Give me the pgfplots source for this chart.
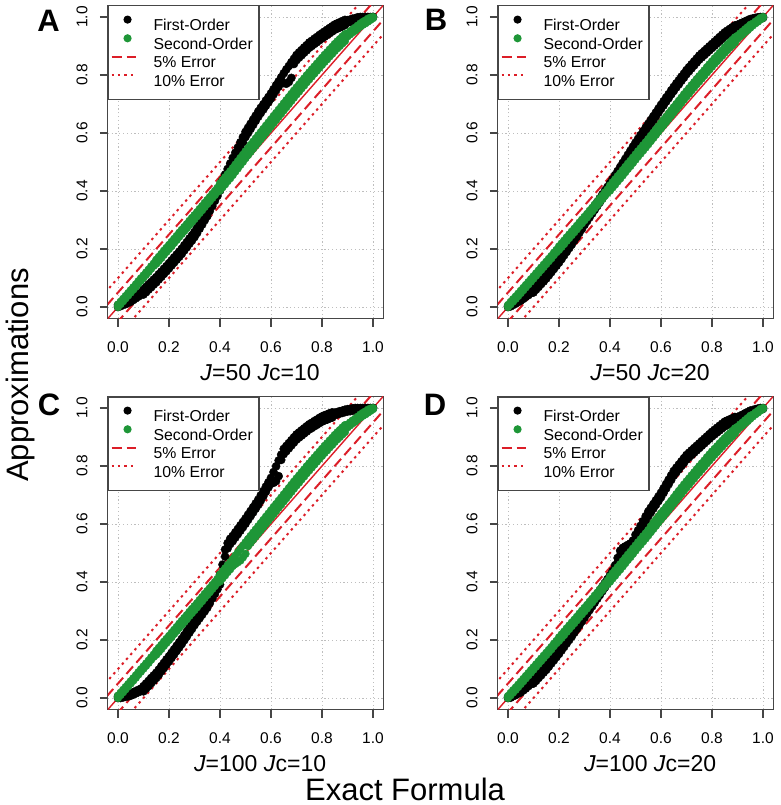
\documentclass[border=0pt]{standalone}
\usepackage{fontspec}
\setmainfont{Liberation Sans}
\usepackage{pgfplots}
\usepackage{pgfplotstable}
\pgfplotsset{compat=1.18}
\definecolor{frameg}{RGB}{70,70,70}
\definecolor{gridg}{RGB}{190,190,190}
\definecolor{lred}{RGB}{220,30,40}
\definecolor{lgreen}{RGB}{30,150,55}

\pgfplotstableread{
x b1 b2 g1 g2
0.00 0.000 0.007 0.000 0.008
0.01 0.003 0.011 0.010 0.018
0.02 0.007 0.015 0.020 0.028
0.03 0.010 0.018 0.030 0.038
0.04 0.014 0.022 0.040 0.048
0.05 0.018 0.026 0.050 0.058
0.06 0.024 0.032 0.060 0.068
0.07 0.030 0.038 0.070 0.078
0.08 0.036 0.044 0.081 0.089
0.09 0.042 0.050 0.091 0.099
0.10 0.043 0.061 0.101 0.109
0.11 0.051 0.069 0.111 0.119
0.12 0.060 0.078 0.121 0.129
0.13 0.068 0.086 0.132 0.140
0.14 0.077 0.095 0.142 0.150
0.15 0.085 0.103 0.149 0.163
0.16 0.095 0.113 0.159 0.173
0.17 0.104 0.122 0.169 0.183
0.18 0.114 0.132 0.180 0.194
0.19 0.123 0.141 0.190 0.204
0.20 0.133 0.151 0.200 0.214
0.21 0.143 0.161 0.210 0.224
0.22 0.153 0.171 0.221 0.235
0.23 0.163 0.181 0.231 0.245
0.24 0.173 0.191 0.242 0.256
0.25 0.183 0.201 0.252 0.266
0.26 0.195 0.213 0.262 0.276
0.27 0.206 0.224 0.272 0.286
0.28 0.218 0.236 0.283 0.297
0.29 0.229 0.247 0.293 0.307
0.30 0.241 0.259 0.303 0.317
0.31 0.255 0.273 0.313 0.327
0.32 0.270 0.288 0.324 0.338
0.33 0.284 0.302 0.334 0.348
0.34 0.299 0.317 0.345 0.359
0.35 0.313 0.331 0.355 0.369
0.36 0.331 0.349 0.365 0.379
0.37 0.348 0.366 0.376 0.390
0.38 0.366 0.384 0.386 0.400
0.39 0.383 0.401 0.397 0.411
0.40 0.401 0.419 0.402 0.426
0.41 0.420 0.438 0.413 0.437
0.42 0.439 0.457 0.423 0.447
0.43 0.458 0.476 0.434 0.458
0.44 0.477 0.495 0.444 0.468
0.45 0.496 0.514 0.455 0.479
0.46 0.514 0.532 0.467 0.491
0.47 0.532 0.550 0.478 0.502
0.48 0.550 0.568 0.490 0.514
0.49 0.568 0.586 0.501 0.525
0.50 0.586 0.604 0.513 0.537
0.51 0.600 0.618 0.524 0.548
0.52 0.614 0.632 0.535 0.559
0.53 0.628 0.646 0.546 0.570
0.54 0.642 0.660 0.557 0.581
0.55 0.656 0.674 0.568 0.592
0.56 0.669 0.687 0.579 0.603
0.57 0.681 0.699 0.590 0.614
0.58 0.694 0.712 0.601 0.625
0.59 0.706 0.724 0.612 0.636
0.60 0.719 0.737 0.623 0.647
0.61 0.733 0.751 0.634 0.658
0.62 0.747 0.765 0.645 0.669
0.63 0.760 0.778 0.656 0.680
0.64 0.774 0.792 0.667 0.691
0.65 0.772 0.806 0.678 0.702
0.66 0.770 0.819 0.689 0.713
0.67 0.776 0.831 0.700 0.724
0.68 0.790 0.844 0.711 0.735
0.69 0.838 0.856 0.722 0.746
0.70 0.851 0.869 0.733 0.757
0.71 0.860 0.878 0.743 0.767
0.72 0.868 0.886 0.754 0.778
0.73 0.877 0.895 0.764 0.788
0.74 0.885 0.903 0.775 0.799
0.75 0.894 0.912 0.785 0.809
0.76 0.900 0.918 0.795 0.819
0.77 0.907 0.925 0.805 0.829
0.78 0.913 0.931 0.815 0.839
0.79 0.920 0.938 0.825 0.849
0.80 0.926 0.944 0.835 0.859
0.81 0.932 0.950 0.845 0.869
0.82 0.938 0.956 0.854 0.878
0.83 0.944 0.962 0.864 0.888
0.84 0.950 0.968 0.873 0.897
0.85 0.956 0.974 0.883 0.907
0.86 0.960 0.978 0.892 0.916
0.87 0.964 0.982 0.900 0.924
0.88 0.968 0.986 0.909 0.933
0.89 0.972 0.990 0.917 0.941
0.90 0.981 0.989 0.933 0.943
0.91 0.983 0.991 0.940 0.950
0.92 0.986 0.994 0.947 0.957
0.93 0.988 0.996 0.953 0.963
0.94 0.991 0.999 0.960 0.970
0.95 0.993 1.000 0.967 0.977
0.96 0.994 1.000 0.973 0.983
0.97 0.995 1.000 0.978 0.988
0.98 0.996 1.000 0.984 0.994
0.99 0.997 1.000 0.990 0.998
1.00 1.000 1.000 0.996 1.000
}\tabA

\pgfplotstableread{
x b1 b2 g1 g2
0.00 0.000 0.003 0.000 0.007
0.01 0.002 0.008 0.009 0.017
0.02 0.007 0.013 0.019 0.027
0.03 0.012 0.018 0.028 0.036
0.04 0.017 0.023 0.038 0.046
0.05 0.022 0.028 0.048 0.056
0.06 0.028 0.034 0.058 0.066
0.07 0.035 0.041 0.068 0.076
0.08 0.041 0.047 0.078 0.086
0.09 0.048 0.054 0.088 0.096
0.10 0.050 0.064 0.098 0.106
0.11 0.060 0.074 0.108 0.116
0.12 0.069 0.083 0.118 0.126
0.13 0.079 0.093 0.128 0.136
0.14 0.088 0.102 0.138 0.146
0.15 0.098 0.112 0.148 0.156
0.16 0.109 0.123 0.158 0.166
0.17 0.120 0.134 0.168 0.176
0.18 0.131 0.145 0.179 0.187
0.19 0.142 0.156 0.189 0.197
0.20 0.153 0.167 0.197 0.209
0.21 0.165 0.179 0.207 0.219
0.22 0.178 0.192 0.217 0.229
0.23 0.190 0.204 0.228 0.240
0.24 0.203 0.217 0.238 0.250
0.25 0.215 0.229 0.248 0.260
0.26 0.229 0.243 0.258 0.270
0.27 0.242 0.256 0.268 0.280
0.28 0.256 0.270 0.279 0.291
0.29 0.269 0.283 0.289 0.301
0.30 0.283 0.297 0.299 0.311
0.31 0.296 0.310 0.309 0.321
0.32 0.309 0.323 0.320 0.332
0.33 0.322 0.336 0.330 0.342
0.34 0.335 0.349 0.341 0.353
0.35 0.348 0.362 0.351 0.363
0.36 0.361 0.375 0.362 0.374
0.37 0.374 0.388 0.372 0.384
0.38 0.387 0.401 0.383 0.395
0.39 0.400 0.414 0.393 0.405
0.40 0.413 0.427 0.401 0.419
0.41 0.427 0.441 0.412 0.430
0.42 0.441 0.455 0.422 0.440
0.43 0.455 0.469 0.433 0.451
0.44 0.469 0.483 0.443 0.461
0.45 0.483 0.497 0.454 0.472
0.46 0.497 0.511 0.465 0.483
0.47 0.511 0.525 0.476 0.494
0.48 0.525 0.539 0.486 0.504
0.49 0.539 0.553 0.497 0.515
0.50 0.553 0.567 0.508 0.526
0.51 0.566 0.580 0.519 0.537
0.52 0.579 0.593 0.529 0.547
0.53 0.592 0.606 0.540 0.558
0.54 0.605 0.619 0.550 0.568
0.55 0.618 0.632 0.561 0.579
0.56 0.631 0.645 0.572 0.590
0.57 0.644 0.658 0.583 0.601
0.58 0.657 0.671 0.594 0.612
0.59 0.670 0.684 0.605 0.623
0.60 0.683 0.697 0.616 0.634
0.61 0.695 0.709 0.627 0.645
0.62 0.708 0.722 0.638 0.656
0.63 0.720 0.734 0.649 0.667
0.64 0.733 0.747 0.660 0.678
0.65 0.745 0.759 0.671 0.689
0.66 0.757 0.771 0.682 0.700
0.67 0.768 0.782 0.693 0.711
0.68 0.780 0.794 0.704 0.722
0.69 0.791 0.805 0.715 0.733
0.70 0.803 0.817 0.726 0.744
0.71 0.813 0.827 0.736 0.754
0.72 0.823 0.837 0.747 0.765
0.73 0.833 0.847 0.757 0.775
0.74 0.843 0.857 0.768 0.786
0.75 0.853 0.867 0.778 0.796
0.76 0.861 0.875 0.788 0.806
0.77 0.869 0.883 0.798 0.816
0.78 0.877 0.891 0.809 0.827
0.79 0.885 0.899 0.819 0.837
0.80 0.893 0.907 0.829 0.847
0.81 0.901 0.915 0.839 0.857
0.82 0.909 0.923 0.848 0.866
0.83 0.917 0.931 0.858 0.876
0.84 0.925 0.939 0.867 0.885
0.85 0.933 0.947 0.877 0.895
0.86 0.939 0.953 0.886 0.904
0.87 0.945 0.959 0.895 0.913
0.88 0.951 0.965 0.903 0.921
0.89 0.957 0.971 0.912 0.930
0.90 0.967 0.973 0.925 0.935
0.91 0.971 0.977 0.933 0.943
0.92 0.975 0.981 0.940 0.950
0.93 0.979 0.985 0.948 0.958
0.94 0.983 0.989 0.955 0.965
0.95 0.987 0.993 0.963 0.973
0.96 0.989 0.995 0.971 0.977
0.97 0.991 0.997 0.978 0.984
0.98 0.993 0.999 0.984 0.990
0.99 0.995 1.000 0.991 0.997
1.00 0.997 1.000 0.997 1.000
}\tabB

\pgfplotstableread{
x b1 b2 g1 g2
0.00 0.000 0.006 0.000 0.008
0.01 0.000 0.008 0.010 0.018
0.02 0.002 0.010 0.020 0.028
0.03 0.004 0.012 0.030 0.038
0.04 0.006 0.014 0.040 0.048
0.05 0.008 0.016 0.050 0.058
0.06 0.012 0.020 0.060 0.068
0.07 0.016 0.024 0.070 0.078
0.08 0.020 0.028 0.081 0.089
0.09 0.024 0.032 0.091 0.099
0.10 0.023 0.041 0.101 0.109
0.11 0.032 0.050 0.111 0.119
0.12 0.041 0.059 0.121 0.129
0.13 0.051 0.069 0.132 0.140
0.14 0.060 0.078 0.142 0.150
0.15 0.069 0.087 0.149 0.163
0.16 0.080 0.098 0.159 0.173
0.17 0.092 0.110 0.169 0.183
0.18 0.103 0.121 0.180 0.194
0.19 0.115 0.133 0.190 0.204
0.20 0.126 0.144 0.200 0.214
0.21 0.138 0.156 0.210 0.224
0.22 0.150 0.168 0.221 0.235
0.23 0.162 0.180 0.231 0.245
0.24 0.174 0.192 0.242 0.256
0.25 0.186 0.204 0.252 0.266
0.26 0.199 0.217 0.262 0.276
0.27 0.212 0.230 0.272 0.286
0.28 0.225 0.243 0.283 0.297
0.29 0.238 0.256 0.293 0.307
0.30 0.251 0.269 0.303 0.317
0.31 0.263 0.281 0.313 0.327
0.32 0.275 0.293 0.324 0.338
0.33 0.287 0.305 0.334 0.348
0.34 0.299 0.317 0.345 0.359
0.35 0.311 0.329 0.355 0.369
0.36 0.327 0.345 0.365 0.379
0.37 0.343 0.361 0.376 0.390
0.38 0.359 0.377 0.386 0.400
0.39 0.375 0.393 0.397 0.411
0.40 0.391 0.425 0.402 0.426
0.41 0.428 0.460 0.413 0.437
0.42 0.488 0.512 0.423 0.447
0.43 0.516 0.534 0.434 0.458
0.44 0.531 0.549 0.444 0.468
0.45 0.541 0.559 0.455 0.479
0.46 0.553 0.571 0.462 0.491
0.47 0.565 0.583 0.468 0.502
0.48 0.577 0.595 0.474 0.514
0.49 0.589 0.607 0.485 0.525
0.50 0.601 0.619 0.497 0.537
0.51 0.614 0.632 0.524 0.548
0.52 0.627 0.645 0.535 0.559
0.53 0.640 0.658 0.546 0.570
0.54 0.653 0.671 0.557 0.581
0.55 0.666 0.684 0.568 0.592
0.56 0.681 0.699 0.579 0.603
0.57 0.696 0.714 0.590 0.614
0.58 0.711 0.729 0.601 0.625
0.59 0.726 0.744 0.612 0.636
0.60 0.741 0.759 0.623 0.647
0.61 0.742 0.779 0.634 0.658
0.62 0.748 0.799 0.645 0.669
0.63 0.765 0.819 0.656 0.680
0.64 0.821 0.839 0.667 0.691
0.65 0.841 0.859 0.678 0.702
0.66 0.851 0.869 0.689 0.713
0.67 0.861 0.879 0.700 0.724
0.68 0.871 0.889 0.711 0.735
0.69 0.881 0.899 0.722 0.746
0.70 0.891 0.909 0.733 0.757
0.71 0.898 0.916 0.743 0.767
0.72 0.905 0.923 0.754 0.778
0.73 0.912 0.930 0.764 0.788
0.74 0.919 0.937 0.775 0.799
0.75 0.926 0.944 0.785 0.809
0.76 0.931 0.949 0.795 0.819
0.77 0.937 0.955 0.805 0.829
0.78 0.942 0.960 0.815 0.839
0.79 0.948 0.966 0.825 0.849
0.80 0.953 0.971 0.835 0.859
0.81 0.957 0.975 0.845 0.869
0.82 0.960 0.978 0.854 0.878
0.83 0.964 0.982 0.864 0.888
0.84 0.967 0.985 0.873 0.897
0.85 0.976 0.984 0.883 0.907
0.86 0.978 0.986 0.892 0.916
0.87 0.981 0.989 0.900 0.924
0.88 0.983 0.991 0.909 0.933
0.89 0.986 0.994 0.917 0.941
0.90 0.988 0.996 0.933 0.943
0.91 0.989 0.997 0.940 0.950
0.92 0.991 0.999 0.947 0.957
0.93 0.992 1.000 0.953 0.963
0.94 0.994 1.000 0.960 0.970
0.95 0.995 1.000 0.967 0.977
0.96 0.996 1.000 0.973 0.983
0.97 0.997 1.000 0.978 0.988
0.98 0.998 1.000 0.984 0.994
0.99 0.999 1.000 0.990 0.998
1.00 1.000 1.000 0.996 1.000
}\tabC

\pgfplotstableread{
x b1 b2 g1 g2
0.00 0.000 0.003 0.000 0.007
0.01 0.001 0.007 0.009 0.017
0.02 0.006 0.012 0.019 0.027
0.03 0.010 0.016 0.028 0.036
0.04 0.015 0.021 0.038 0.046
0.05 0.019 0.025 0.048 0.056
0.06 0.026 0.032 0.058 0.066
0.07 0.033 0.039 0.068 0.076
0.08 0.041 0.047 0.078 0.086
0.09 0.048 0.054 0.088 0.096
0.10 0.050 0.066 0.098 0.106
0.11 0.059 0.075 0.108 0.116
0.12 0.069 0.085 0.118 0.126
0.13 0.078 0.094 0.128 0.136
0.14 0.088 0.104 0.138 0.146
0.15 0.097 0.113 0.148 0.156
0.16 0.108 0.124 0.158 0.166
0.17 0.119 0.135 0.168 0.176
0.18 0.130 0.146 0.179 0.187
0.19 0.141 0.157 0.189 0.197
0.20 0.152 0.168 0.197 0.209
0.21 0.164 0.180 0.207 0.219
0.22 0.176 0.192 0.217 0.229
0.23 0.188 0.204 0.228 0.240
0.24 0.200 0.216 0.238 0.250
0.25 0.212 0.228 0.248 0.260
0.26 0.225 0.241 0.258 0.270
0.27 0.238 0.254 0.268 0.280
0.28 0.251 0.267 0.279 0.291
0.29 0.264 0.280 0.289 0.301
0.30 0.277 0.293 0.299 0.311
0.31 0.290 0.306 0.309 0.321
0.32 0.303 0.319 0.320 0.332
0.33 0.316 0.332 0.330 0.342
0.34 0.329 0.345 0.341 0.353
0.35 0.342 0.358 0.351 0.363
0.36 0.355 0.371 0.362 0.374
0.37 0.368 0.384 0.372 0.384
0.38 0.381 0.397 0.383 0.395
0.39 0.394 0.410 0.393 0.405
0.40 0.407 0.423 0.401 0.419
0.41 0.422 0.438 0.412 0.430
0.42 0.442 0.458 0.422 0.440
0.43 0.467 0.483 0.433 0.451
0.44 0.492 0.508 0.443 0.461
0.45 0.502 0.518 0.454 0.472
0.46 0.507 0.523 0.465 0.483
0.47 0.512 0.528 0.476 0.494
0.48 0.517 0.533 0.486 0.504
0.49 0.527 0.543 0.497 0.515
0.50 0.547 0.563 0.508 0.526
0.51 0.562 0.578 0.519 0.537
0.52 0.578 0.594 0.529 0.547
0.53 0.594 0.610 0.540 0.558
0.54 0.611 0.627 0.550 0.568
0.55 0.627 0.643 0.561 0.579
0.56 0.640 0.656 0.572 0.592
0.57 0.653 0.669 0.583 0.604
0.58 0.666 0.682 0.594 0.615
0.59 0.679 0.695 0.605 0.626
0.60 0.692 0.708 0.616 0.637
0.61 0.707 0.723 0.627 0.647
0.62 0.722 0.738 0.638 0.658
0.63 0.737 0.753 0.649 0.669
0.64 0.752 0.768 0.660 0.680
0.65 0.767 0.783 0.671 0.691
0.66 0.778 0.794 0.682 0.703
0.67 0.789 0.805 0.693 0.714
0.68 0.800 0.816 0.704 0.725
0.69 0.811 0.827 0.715 0.736
0.70 0.822 0.838 0.726 0.747
0.71 0.830 0.846 0.736 0.757
0.72 0.838 0.854 0.747 0.768
0.73 0.846 0.862 0.757 0.778
0.74 0.854 0.870 0.768 0.789
0.75 0.862 0.878 0.778 0.799
0.76 0.870 0.886 0.788 0.809
0.77 0.878 0.894 0.798 0.819
0.78 0.886 0.902 0.809 0.830
0.79 0.894 0.910 0.819 0.840
0.80 0.902 0.918 0.829 0.850
0.81 0.909 0.925 0.839 0.859
0.82 0.916 0.932 0.848 0.868
0.83 0.923 0.939 0.858 0.878
0.84 0.930 0.946 0.867 0.887
0.85 0.937 0.953 0.877 0.896
0.86 0.941 0.957 0.886 0.905
0.87 0.945 0.961 0.895 0.913
0.88 0.949 0.965 0.903 0.921
0.89 0.953 0.969 0.912 0.930
0.90 0.962 0.968 0.925 0.935
0.91 0.967 0.973 0.933 0.943
0.92 0.971 0.977 0.940 0.950
0.93 0.976 0.982 0.948 0.958
0.94 0.980 0.986 0.955 0.965
0.95 0.985 0.991 0.963 0.973
0.96 0.987 0.993 0.971 0.977
0.97 0.990 0.996 0.978 0.984
0.98 0.992 0.998 0.984 0.990
0.99 0.995 1.000 0.991 0.997
1.00 0.997 1.000 0.997 1.000
}\tabD

\pgfplotsset{
  panel/.style={
    scale only axis, width=275.4pt, height=313.2pt,
    xmin=-0.04, xmax=1.04, ymin=-0.04, ymax=1.04,
    xtick={0,0.2,0.4,0.6,0.8,1}, ytick={0,0.2,0.4,0.6,0.8,1},
    xticklabels={0.0,0.2,0.4,0.6,0.8,1.0},
    yticklabels={0.0,0.2,0.4,0.6,0.8,1.0},
    tick align=outside, xtick pos=left, ytick pos=left,
    major tick length=8pt,
    every tick/.style={frameg, line width=1.1pt},
    axis line style={frameg, line width=1.1pt},
    grid=major,
    major grid style={gridg, line width=0.9pt, dash pattern=on 1.2pt off 2.6pt},
    tick label style={font=\fontsize{15.5}{15.5}\selectfont, inner sep=0pt},
    xticklabel style={anchor=base},
    xticklabel shift=26pt,
    yticklabel style={rotate=90, anchor=base},
    yticklabel shift=12.5pt,
    xlabel style={at={(axis description cs:0.553,0)}, anchor=base, yshift=-62pt,
      inner sep=0pt, font=\fontsize{23}{23}\selectfont},
    legend style={at={(axis description cs:0,1)}, anchor=north west,
      draw=frameg, line width=1.1pt, fill=white,
      inner xsep=2.2pt, inner ysep=9.6pt, row sep=0pt, column sep=17pt,
      font=\fontsize{15.8}{15.8}\selectfont,
      nodes={inner sep=0pt, text height=15pt, text depth=3.3pt}},
    legend cell align=left,
  },
  blk/.style={only marks, mark=*, mark size=4.1pt, black,
    mark options={draw=none, fill=black},
    legend image code/.code={\path (0pt,0pt) (24pt,0pt); \fill[black] (16pt,5.5pt) circle (3.5pt);}},
  grn/.style={only marks, mark=*, mark size=3.9pt, lgreen,
    mark options={draw=none, fill=lgreen},
    legend image code/.code={\path (0pt,0pt) (24pt,0pt); \fill[lgreen] (16pt,5.5pt) circle (3.5pt);}},
  solidl/.style={lred, line width=1.4pt, forget plot},
  dashl/.style={lred, line width=2pt, dash pattern=on 10pt off 5pt,
    legend image code/.code={\draw[lred, line width=2pt, dash pattern=on 10pt off 5pt] (0pt,5.5pt) -- (24pt,5.5pt);}},
  dotl/.style={lred, line width=2pt, dash pattern=on 2.4pt off 4pt,
    legend image code/.code={\draw[lred, line width=2pt, dash pattern=on 2.4pt off 4pt] (0pt,5.5pt) -- (24pt,5.5pt);}},
}

\newcommand{\panelplots}[1]{%
  \addplot[blk] table[x=x,y=b1]{#1};
  \addplot[blk, forget plot] table[x=x,y=b2]{#1};
  \addplot[grn] table[x=x,y=g1]{#1};
  \addplot[grn, forget plot] table[x=x,y=g2]{#1};
  \addplot[solidl] coordinates {(-0.2,-0.2) (1.2,1.2)};
  \addplot[dashl] coordinates {(-0.2,-0.15) (1.2,1.25)};
  \addplot[dashl, forget plot] coordinates {(-0.2,-0.25) (1.2,1.15)};
  \addplot[dotl] coordinates {(-0.2,-0.1) (1.2,1.3)};
  \addplot[dotl, forget plot] coordinates {(-0.2,-0.3) (1.2,1.1)};
  \legend{First-Order,Second-Order\hspace*{4pt},5\% Error,10\% Error}
}

\begin{document}
\begin{tikzpicture}
\useasboundingbox (0pt,0pt) rectangle (780pt,-805pt);

\begin{axis}[panel, at={(107.8pt,-318.6pt)}, anchor=south west,
  xlabel={\textit{J}=50 \textit{J}c=10}]
\panelplots{\tabA}
\end{axis}

\begin{axis}[panel, at={(497.8pt,-318.6pt)}, anchor=south west,
  xlabel={\textit{J}=50 \textit{J}c=20}]
\panelplots{\tabB}
\end{axis}

\begin{axis}[panel, at={(107.8pt,-709.6pt)}, anchor=south west,
  xlabel={\textit{J}=100 \textit{J}c=10}]
\panelplots{\tabC}
\end{axis}

\begin{axis}[panel, at={(497.8pt,-709.6pt)}, anchor=south west,
  xlabel={\textit{J}=100 \textit{J}c=20}]
\panelplots{\tabD}
\end{axis}

\node[font=\fontsize{31}{31}\selectfont\bfseries, anchor=base, inner sep=0pt] at (48.5pt,-32pt) {A};
\node[font=\fontsize{31}{31}\selectfont\bfseries, anchor=base, inner sep=0pt] at (436pt,-31pt) {B};
\node[font=\fontsize{31}{31}\selectfont\bfseries, anchor=base, inner sep=0pt] at (49pt,-415pt) {C};
\node[font=\fontsize{31}{31}\selectfont\bfseries, anchor=base, inner sep=0pt] at (435pt,-415pt) {D};
\node[font=\fontsize{31}{31}\selectfont, rotate=90, anchor=base, inner sep=0pt] at (28pt,-375pt) {Approximations};
\node[font=\fontsize{31}{31}\selectfont, anchor=base, inner sep=0pt] at (405pt,-800pt) {Exact Formula};
\end{tikzpicture}
\end{document}
